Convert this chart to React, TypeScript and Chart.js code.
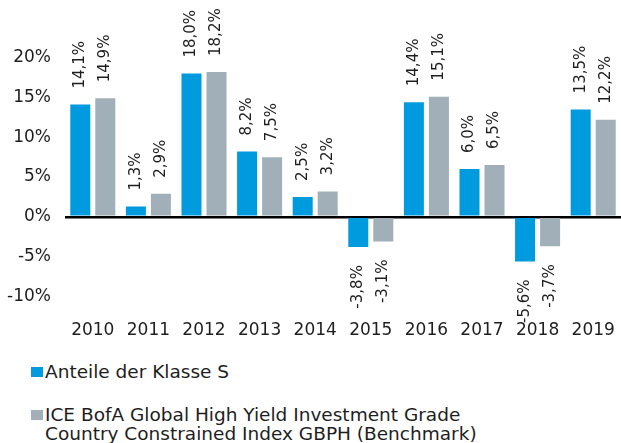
import React, { useEffect, useRef } from "react";
import { Chart, registerables } from "chart.js";

Chart.register(...registerables);

const years = ["2010", "2011", "2012", "2013", "2014", "2015", "2016", "2017", "2018", "2019"];
const classS = [14.1, 1.3, 18.0, 8.2, 2.5, -3.8, 14.4, 6.0, -5.6, 13.5];
const benchmark = [14.9, 2.9, 18.2, 7.5, 3.2, -3.1, 15.1, 6.5, -3.7, 12.2];
const seriesNames = [
  "Anteile der Klasse S",
  "ICE BofA Global High Yield Investment Grade Country Constrained Index GBPH (Benchmark)",
];
const benchmarkLines = [
  "ICE BofA Global High Yield Investment Grade",
  "Country Constrained Index GBPH (Benchmark)",
];

const BLUE = "#009ADE";
const GREY = "#A0AFB8";
const TEXT = "#1e1e1e";
const FONT = "'DejaVu Sans', sans-serif";

const fmt = (v: number) => v.toFixed(1).replace(".", ",") + "%";

const labelPlugin = {
  id: "barLabels",
  afterDatasetsDraw(chart: any) {
    const ctx = chart.ctx;
    ctx.save();
    ctx.fillStyle = TEXT;
    ctx.font = `15px ${FONT}`;
    ctx.textBaseline = "middle";
    chart.data.datasets.forEach((ds: any, di: number) => {
      const meta = chart.getDatasetMeta(di);
      meta.data.forEach((el: any, i: number) => {
        const v = ds.data[i] as number;
        ctx.save();
        if (v >= 0) {
          ctx.translate(el.x, el.y - 16);
          ctx.rotate(-Math.PI / 2);
          ctx.textAlign = "left";
        } else {
          ctx.translate(el.x, el.y + 18);
          ctx.rotate(-Math.PI / 2);
          ctx.textAlign = "right";
        }
        ctx.fillText(fmt(v), 0, 0);
        ctx.restore();
      });
    });
    ctx.restore();
  },
};

export default function App() {
  const ref = useRef<HTMLCanvasElement | null>(null);

  useEffect(() => {
    if (!ref.current) return;
    const chart = new Chart(ref.current, {
      type: "bar",
      data: {
        labels: years,
        datasets: [
          { label: seriesNames[0], data: classS, backgroundColor: BLUE },
          { label: seriesNames[1], data: benchmark, backgroundColor: GREY },
        ],
      },
      options: {
        animation: false,
        responsive: false,
        maintainAspectRatio: false,
        layout: { padding: { top: 0, right: 0, bottom: 0, left: 0 } },
        datasets: { bar: { categoryPercentage: 0.9, barPercentage: 0.8 } },
        plugins: { legend: { display: false }, tooltip: { enabled: false } },
        scales: {
          x: {
            grid: { display: false },
            border: { display: false },
            ticks: { color: TEXT, font: { family: FONT, size: 17 }, padding: 2, maxRotation: 0 },
            afterFit(scale: any) {
              scale.height = 35;
            },
          },
          y: {
            min: -11.7,
            max: 24.2,
            border: { display: false },
            grid: {
              drawTicks: false,
              color: (c: any) => (c.tick && c.tick.value === 0 ? "#000" : "rgba(0,0,0,0)"),
              lineWidth: (c: any) => (c.tick && c.tick.value === 0 ? 2.5 : 0),
            },
            ticks: {
              stepSize: 5,
              includeBounds: false,
              color: TEXT,
              padding: 14,
              font: { family: FONT, size: 17 },
              callback: (v: any) => (v > 20 ? "" : v + "%"),
            },
            afterFit(scale: any) {
              scale.width = 65;
            },
          },
        },
      },
      plugins: [labelPlugin],
    });
    return () => chart.destroy();
  }, []);

  const legendText: React.CSSProperties = {
    position: "absolute",
    left: 45,
    fontFamily: FONT,
    fontSize: 18.5,
    lineHeight: "19px",
    color: TEXT,
    whiteSpace: "nowrap",
  };
  const square = (top: number, color: string): React.CSSProperties => ({
    position: "absolute",
    left: 31,
    top,
    width: 12,
    height: 10,
    background: color,
  });

  return (
    <div style={{ position: "absolute", left: 0, top: 0, width: 621, height: 443, background: "#fff", overflow: "hidden" }}>
      <canvas ref={ref} width={621} height={345} style={{ position: "absolute", left: 0, top: 0 }} />
      <div style={square(367, BLUE)} />
      <div style={{ ...legendText, top: 362 }}>{seriesNames[0]}</div>
      <div style={square(410, GREY)} />
      <div style={{ ...legendText, top: 405 }}>
        {benchmarkLines[0]}
        <br />
        {benchmarkLines[1]}
      </div>
    </div>
  );
}
